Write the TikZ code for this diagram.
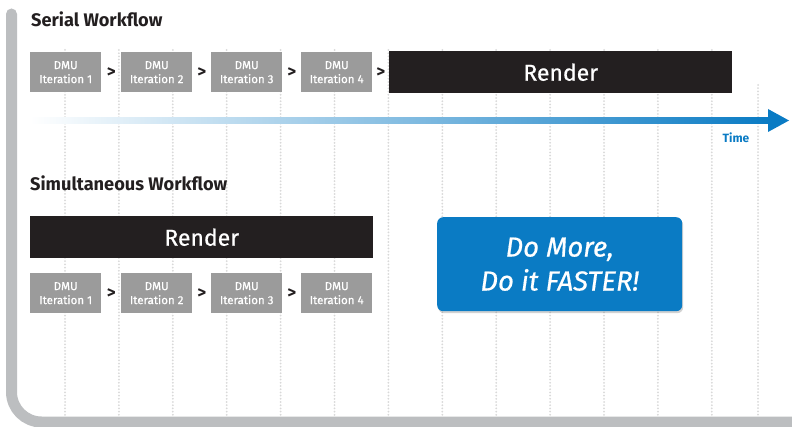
\documentclass[tikz,border=0pt]{standalone}
\usepackage{fontspec}
\setmainfont{Fira Sans}
\newfontfamily\medfont{Fira Sans}[FakeBold=0.6]
\usetikzlibrary{shadows}
\definecolor{framegray}{HTML}{BCBEC0}
\definecolor{dotgray}{HTML}{D9D9D9}
\definecolor{dmugray}{HTML}{9B9B9B}
\definecolor{renderblack}{HTML}{231F20}
\definecolor{intelblue}{HTML}{0A7BC4}
\begin{document}
\begin{tikzpicture}[x=1pt,y=-1pt,
  dmu/.style={fill=dmugray, minimum width=71pt, minimum height=40pt, inner sep=0pt, text=white,
    font=\medfont\fontsize{11.5}{14}\selectfont, align=center, anchor=north west},
  render/.style={fill=renderblack, text=white, inner sep=0pt, anchor=north west,
    font=\medfont\fontsize{23}{28}\selectfont},
  chev/.style={font=\fontsize{17}{17}\selectfont\bfseries, text=renderblack, inner sep=0pt},
  title/.style={font=\fontsize{18.2}{21}\selectfont\bfseries, anchor=west, inner sep=0pt, text=renderblack},
  gridline/.style={dotgray, line width=2pt, line cap=round, dash pattern=on 0pt off 3.2pt}
]
\useasboundingbox (0,0) rectangle (792,427);
\fill[white] (0,0) rectangle (792,427);
% dotted grid
\foreach \i in {0,...,12} { \draw[gridline] ({65+53.9*\i},50) -- ({65+53.9*\i},416); }
\draw[gridline] (758,85) -- (758,416);
% frame
\draw[framegray, line width=11pt, line cap=round, rounded corners=30pt] (11.5,14) -- (11.5,422) -- (810,422);

% Serial workflow
\node[title] (t1) at (31,19) {Serial Workflow};
\node[dmu] (s1) at (30,52) {DMU\\Iteration 1};
\node[dmu] (s2) at (121,52) {DMU\\Iteration 2};
\node[dmu] (s3) at (211,52) {DMU\\Iteration 3};
\node[dmu] (s4) at (301,52) {DMU\\Iteration 4};
\node[render, minimum width=343pt, minimum height=42pt] (sr) at (389,51) {Render};
\path (s1.east) -- (s2.west) node[midway, chev] {>};
\path (s2.east) -- (s3.west) node[midway, chev] {>};
\path (s3.east) -- (s4.west) node[midway, chev] {>};
\path (s4.east) -- (sr.west |- s4.east) node[midway, chev] {>};

% time axis
\coordinate (tstart) at (30,120.5);
\coordinate (tend) at (789,120.5);
\shade[left color=white, right color=intelblue] (30,118) rectangle (770,123.5);
\fill[intelblue] (768,109) -- (tend) -- (768,132) -- cycle;
\node[font=\fontsize{12}{13}\selectfont\bfseries, text=intelblue, inner sep=0pt] (time) at (736,138) {Time};

% Simultaneous workflow
\node[title] (t2) at (30,183) {Simultaneous Workflow};
\node[render, minimum width=343pt, minimum height=42pt] (pr) at (30,216) {Render};
\node[dmu] (p1) at (30,273) {DMU\\Iteration 1};
\node[dmu] (p2) at (121,273) {DMU\\Iteration 2};
\node[dmu] (p3) at (211,273) {DMU\\Iteration 3};
\node[dmu] (p4) at (301,273) {DMU\\Iteration 4};
\path (p1.east) -- (p2.west) node[midway, chev] {>};
\path (p2.east) -- (p3.west) node[midway, chev] {>};
\path (p3.east) -- (p4.west) node[midway, chev] {>};

% slogan
\node[fill=intelblue, rounded corners=6pt,
  drop shadow={opacity=0.35, shadow xshift=1pt, shadow yshift=-2pt},
  minimum width=245pt, minimum height=94pt, anchor=north west, inner sep=0pt,
  text=white, align=center, font=\medfont\fontsize{27.5}{34}\selectfont\itshape] (slogan) at (437,217)
  {Do More,\\Do it FASTER!};
\end{tikzpicture}
\end{document}
